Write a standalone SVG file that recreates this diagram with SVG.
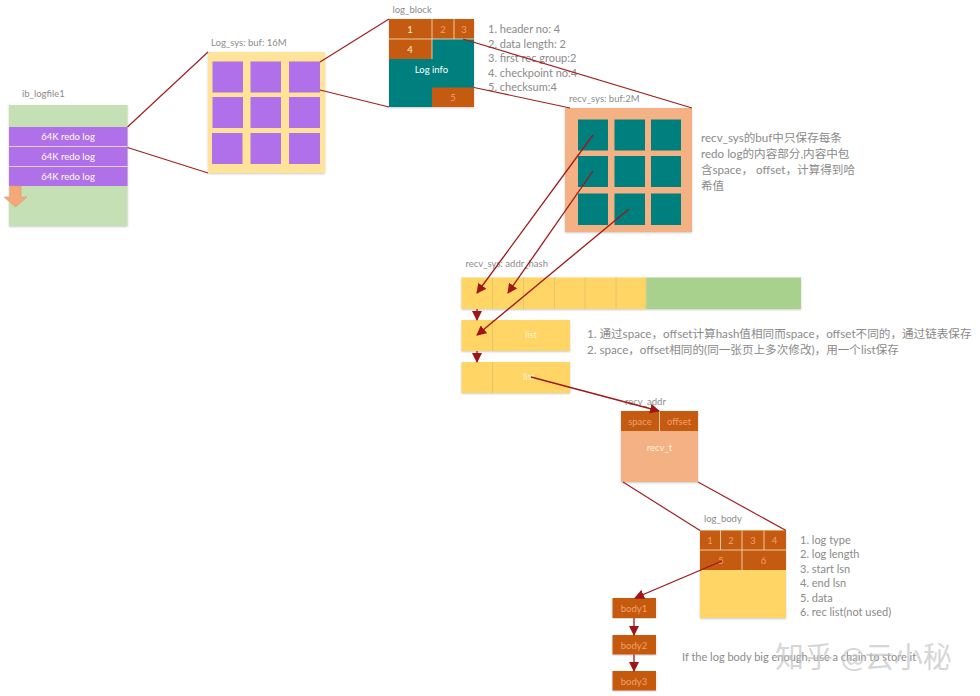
<svg xmlns="http://www.w3.org/2000/svg" width="980" height="696" viewBox="0 0 980 696">
<style>
text{font-family:"Lato","Noto Sans CJK SC",sans-serif}
.l{font-size:9.500px;fill:#8c8c8c}
.n{font-size:11px;fill:#8a8a8a}
.z{font-size:11.600px;fill:#8a8a8a}
.c{font-size:9.500px;fill:#fff;text-anchor:middle}
.p{font-size:9.500px;fill:#fff3d0;text-anchor:middle}
.d{font-size:9.500px;fill:#eea070;text-anchor:middle}
.s{filter:url(#sh)}
.pu{fill:#b070ea}
.te{fill:#007f7f}
.or{fill:#c55a11}
.ye{fill:#ffd566}
.pe{fill:#f4b183}
.gr{fill:#a9d18e}
.lg{fill:#c5e0b4}
.div{stroke:#f4e4c8;stroke-width:.8;fill:none}
.wl{stroke:#e6c468;stroke-width:1;fill:none}
.ln{stroke:#a02020;stroke-width:1.200;fill:none}
.ar{stroke:#a01616;stroke-width:1.300;fill:none;marker-end:url(#ah)}
</style>
<defs>
<filter id="sh" x="-5%" y="-5%" width="110%" height="110%"><feDropShadow dx="0" dy="1" stdDeviation="1" flood-color="#8a8a8a" flood-opacity=".45"/></filter>
<marker id="ah" viewBox="0 0 10 10" refX="9" refY="5" markerWidth="10" markerHeight="10" markerUnits="userSpaceOnUse" orient="auto"><path d="M0 0L10 5L0 10Z" fill="#a01616"/></marker>
</defs>

<g id="ib_logfile1">
<text class="l" x="22" y="97">ib_logfile1</text>
<rect class="lg s" x="9" y="105" width="118.500" height="121"/>
<rect class="pu" x="9" y="127" width="118.500" height="59"/>
<path class="div" d="M9 146.500H127.500M9 166.500H127.500"/>
<text class="c" x="68" y="140">64K redo log</text>
<text class="c" x="68" y="160">64K redo log</text>
<text class="c" x="68" y="180">64K redo log</text>
<path d="M10 186H21V197H27L15.500 207L4 197H10Z" fill="#f4a878" stroke="#d99a70" stroke-width=".6"/>
</g>

<g id="log_sys">
<text class="l" x="211" y="46">Log_sys: buf: 16M</text>
<rect class="s" fill="#ffe398" x="208" y="52" width="117" height="121"/>
<g class="pu">
<rect x="212.500" y="61.500" width="30.500" height="31"/><rect x="250.500" y="61.500" width="30.500" height="31"/><rect x="289" y="61.500" width="31" height="31"/>
<rect x="212.500" y="97" width="30.500" height="31"/><rect x="250.500" y="97" width="30.500" height="31"/><rect x="289" y="97" width="31" height="31"/>
<rect x="212" y="133" width="30.500" height="31"/><rect x="250.500" y="133" width="30.500" height="31"/><rect x="289" y="133" width="31" height="31"/>
</g>
</g>

<g id="log_block">
<text class="l" x="392.500" y="13">log_block</text>
<rect class="te s" x="389" y="19" width="85" height="88"/>
<path class="or" d="M389 19H474V39H432V59H389Z"/>
<rect class="or" x="432" y="87.500" width="42" height="19.500"/>
<path class="div" d="M432 19V59M454 19V39M389 39H474"/>
<text class="p" x="410" y="33">1</text>
<text class="d" x="443" y="33">2</text>
<text class="d" x="464" y="33">3</text>
<text class="p" x="410" y="52.500">4</text>
<text class="c" x="431.500" y="73">Log info</text>
<text class="d" x="453" y="101">5</text>
</g>
<g id="log_block_notes">
<text class="n" x="488" y="33">1. header no: 4</text>
<text class="n" x="488" y="47.500">2. data length: 2</text>
<text class="n" x="488" y="62">3. first rec group:2</text>
<text class="n" x="488" y="76.500">4. checkpoint no:4</text>
<text class="n" x="488" y="91">5. checksum:4</text>
</g>

<g id="recv_sys">
<text class="l" x="569" y="102">recv_sys: buf:2M</text>
<rect class="pe s" x="565" y="108" width="127" height="124"/>
<g class="te">
<rect x="578" y="119.500" width="30" height="31"/><rect x="614.500" y="119.500" width="30.500" height="31"/><rect x="651" y="119.500" width="30" height="31"/>
<rect x="578" y="156" width="30" height="31"/><rect x="614.500" y="156" width="30.500" height="31"/><rect x="651" y="156" width="30" height="31"/>
<rect x="578" y="193.500" width="30" height="31.500"/><rect x="614.500" y="193.500" width="30.500" height="31.500"/><rect x="651" y="193.500" width="30" height="31.500"/>
</g>
</g>
<g id="recv_sys_note">
<text class="z" x="701" y="142">recv_sys的buf中只保存每条</text>
<text class="z" x="701" y="158">redo log的内容部分,内容中包</text>
<text class="z" x="701" y="174">含space， offset，计算得到哈</text>
<text class="z" x="701" y="190">希值</text>
</g>

<g id="addr_hash">
<text class="l" x="465.500" y="267">recv_sys: addr_hash</text>
<rect class="ye s" x="461.500" y="277.500" width="185" height="31.500"/>
<rect class="gr s" x="646.500" y="277.500" width="154.500" height="31.500"/>
<path class="wl" d="M492.500 277.500V309M523.500 277.500V309M554.500 277.500V309M585 277.500V309M616 277.500V309"/>
</g>

<g id="list1">
<rect class="ye s" x="461.500" y="320" width="108.500" height="31"/>
<path class="wl" d="M492.500 320V351"/>
<text class="p" x="531" y="338">list</text>
</g>
<g id="list2">
<rect class="ye s" x="461.500" y="362" width="108.500" height="31"/>
<path class="wl" d="M492.500 362V393"/>
<text class="p" x="529" y="380">list</text>
</g>
<g id="hash_notes">
<text class="z" x="587" y="338">1. 通过space，offset计算hash值相同而space，offset不同的，通过链表保存</text>
<text class="z" x="587" y="354">2. space，offset相同的(同一张页上多次修改)，用一个list保存</text>
</g>

<g id="recv_addr">
<text class="l" x="625" y="405">recv_addr</text>
<rect class="pe s" x="621" y="411" width="77" height="71"/>
<rect class="or" x="621" y="411" width="77" height="20"/>
<path class="div" d="M659.500 411V431"/>
<text class="d" x="640" y="425">space</text>
<text class="d" x="679" y="425">offset</text>
<text class="p" x="659.500" y="451">recv_t</text>
</g>

<g id="log_body">
<text class="l" x="704" y="522">log_body</text>
<rect class="ye s" x="700" y="530.500" width="86" height="87.500"/>
<rect class="or" x="700" y="530.500" width="86" height="39.500"/>
<path class="div" d="M720.500 530.500V550M742 530.500V570M764 530.500V550M700 550H786"/>
<text class="d" x="710" y="544">1</text>
<text class="d" x="731" y="544">2</text>
<text class="d" x="753" y="544">3</text>
<text class="d" x="774.500" y="544">4</text>
<text class="d" x="721" y="564">5</text>
<text class="d" x="763.500" y="564">6</text>
</g>
<g id="log_body_notes">
<text class="n" x="800" y="544">1. log type</text>
<text class="n" x="800" y="558">2. log length</text>
<text class="n" x="800" y="573">3. start lsn</text>
<text class="n" x="800" y="587">4. end lsn</text>
<text class="n" x="800" y="601.500">5. data</text>
<text class="n" x="800" y="616">6. rec list(not used)</text>
</g>

<g id="body1"><rect class="or s" x="612.500" y="598" width="43.500" height="20"/><text class="d" x="634" y="611.500">body1</text></g>
<g id="body2"><rect class="or s" x="612.500" y="635" width="43.500" height="19.500"/><text class="d" x="634" y="648.500">body2</text></g>
<g id="body3"><rect class="or s" x="612.500" y="671" width="43.500" height="19.500"/><text class="d" x="634" y="684.500">body3</text></g>
<text id="body_note" class="n" x="682" y="661">If the log body big enough, use a chain to store it</text>

<g id="connectors">
<path class="ln" d="M127.500 127L208 52M127.500 147.500L208 173"/>
<path class="ln" d="M320 62L389 19M320 90L389 107"/>
<path class="ln" d="M463 39L692 108M474 87.500L570 108"/>
<path class="ar" d="M593 135L477 293"/>
<path class="ar" d="M593 171L508 293"/>
<path class="ar" d="M629 209L477 335"/>
<path class="ar" d="M477 309V320"/>
<path class="ar" d="M477 351V362"/>
<path class="ar" d="M531 377L659 411"/>
<path class="ln" d="M623 482L700 530.500M698 482L786 530.500"/>
<path class="ar" d="M722 561L635 598"/>
<path class="ar" d="M634 618V635"/>
<path class="ar" d="M634 654.500V671"/>
</g>

<text id="watermark" x="775" y="668" font-size="29" fill="#c4c4c4" fill-opacity=".7">知乎 @云小秘</text>
</svg>
